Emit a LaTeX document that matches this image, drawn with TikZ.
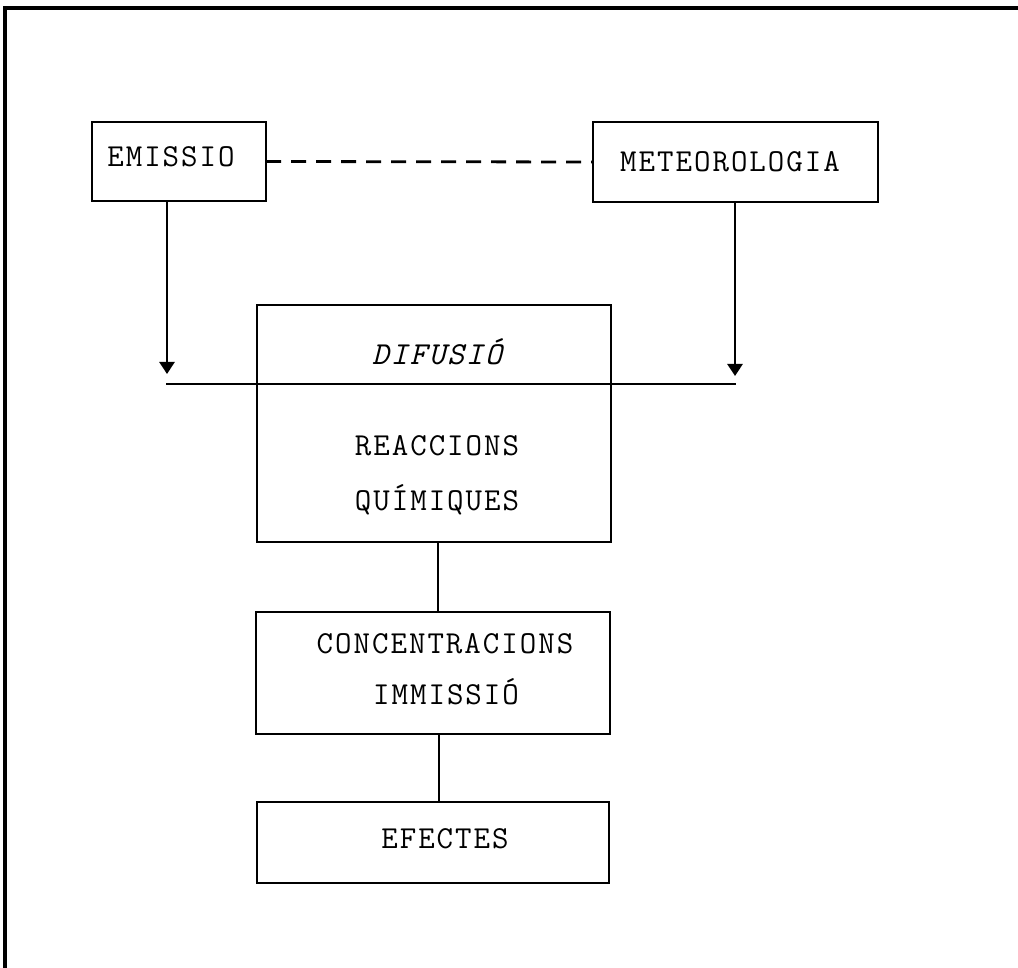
\documentclass[tikz,border=0pt]{standalone}
\usepackage{fontspec}
\usetikzlibrary{arrows.meta}
\newcommand\twfont{\ttfamily\fontsize{16}{19}\selectfont}
\makeatletter
\newcommand\spc[1]{\@tfor\tmpch:=#1\do{\tmpch\kern1pt}\kern-1pt}
\makeatother
\begin{document}
\begin{tikzpicture}[x=0.5pt,y=-0.5pt,
  box/.style={draw,line width=1.4pt,inner sep=0pt,outer sep=0pt},
  lbl/.style={inner sep=0pt,font=\twfont},
  conn/.style={line width=1.4pt},
  arr/.style={line width=1.4pt,-{Triangle[width=7.5pt,length=6pt]}}]
\useasboundingbox (0,0) rectangle (1018,968);
\draw[line width=2.2pt] (1018,8) -- (5,8) -- (5,968);
% boxes
\node[box,minimum width=87pt,minimum height=39.5pt] (emi) at (179,161.5) {};
\node[box,minimum width=142.5pt,minimum height=40pt] (met) at (735.5,162) {};
\node[box,minimum width=177pt,minimum height=118.5pt] (dif) at (434,423.5) {};
\node[box,minimum width=177pt,minimum height=61pt] (conc) at (433,673) {};
\node[box,minimum width=176pt,minimum height=40.5pt] (efe) at (433,842.5) {};
% texts
\node[lbl] (temi) at (171,157) {\spc{EMISSIO}};
\node[lbl] (tmet) at (730,162) {\spc{METEOROLOGIA}};
\node[lbl,font=\twfont\itshape] (tdif) at (437,352) {\spc{DIFUSIÓ}};
\node[lbl] (trea) at (437,446) {\spc{REACCIONS}};
\node[lbl] (tqui) at (437,500) {\spc{QUÍMIQUES}};
\node[lbl] (tcon) at (445,644) {\spc{CONCENTRACIONS}};
\node[lbl] (timm) at (446,692) {\spc{IMMISSIÓ}};
\node[lbl] (tefe) at (445,839) {\spc{EFECTES}};
% connectors
\coordinate (hl) at (166,384);
\coordinate (hr) at (736,384);
\coordinate (ea) at (167,374);
\coordinate (ma) at (735,376);
\coordinate (v1) at (438,575);
\coordinate (v2) at (439,770);
\draw[conn,dashed,dash pattern=on 7.5pt off 5pt] (emi.east) -- (met.west);
\draw[arr] (emi.south -| ea) -- (ea);
\draw[arr] (met.south -| ma) -- (ma);
\draw[conn] (hl) -- (hr);
\draw[conn] (dif.south -| v1) -- (conc.north -| v1);
\draw[conn] (conc.south -| v2) -- (efe.north -| v2);
\end{tikzpicture}
\end{document}
